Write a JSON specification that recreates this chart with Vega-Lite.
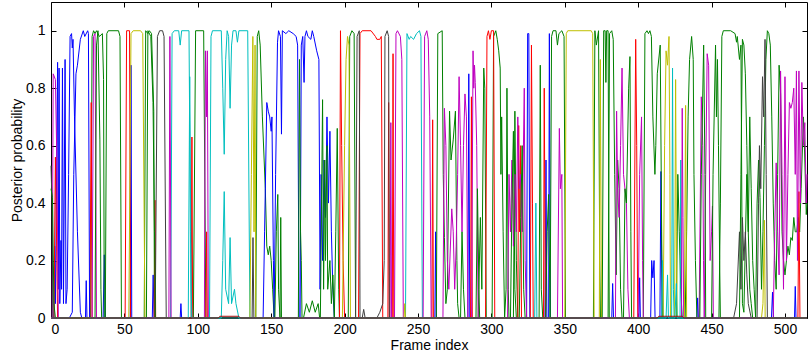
{
"$schema": "https://vega.github.io/schema/vega-lite/v6.json",
"width": 756, "height": 316,
"autosize": {"type": "none"},
"padding": {"left": 51, "top": 2, "right": 4, "bottom": 38},
"background": "white",
"config": {"view": {"stroke": "#000", "strokeWidth": 1},
 "axis": {"labelFont": "Liberation Sans", "titleFont": "Liberation Sans", "labelFontSize": 14, "titleFontSize": 14, "titleFontWeight": "normal", "labelColor": "#000", "titleColor": "#000", "tickColor": "#000", "domain": false, "grid": false}},
"data": {"values": [
{"s":"s01b","f":0,"p":0},{"s":"s01b","f":2,"p":0},{"s":"s01b","f":2.5,"p":0.25},{"s":"s01b","f":3,"p":0.05},{"s":"s01b","f":4.5,"p":0.89},{"s":"s01b","f":5,"p":0.1},{"s":"s01b","f":5.5,"p":0.87},{"s":"s01b","f":6,"p":0.05},{"s":"s01b","f":6.8,"p":0.27},{"s":"s01b","f":7.2,"p":0.1},{"s":"s01b","f":7.8,"p":0.87},{"s":"s01b","f":8.5,"p":0.05},{"s":"s01b","f":9.6,"p":0.9},{"s":"s01b","f":10.2,"p":0.05},{"s":"s01b","f":11,"p":0.1},{"s":"s01b","f":12,"p":0.5},{"s":"s01b","f":13,"p":0.98},{"s":"s01b","f":14,"p":0.99},{"s":"s01b","f":14.5,"p":0.94},{"s":"s01b","f":15,"p":0.97},{"s":"s01b","f":16,"p":0.7},{"s":"s01b","f":18,"p":0.3},{"s":"s01b","f":20,"p":0.02},{"s":"s01b","f":21,"p":0},{"s":"s01b","f":23.5,"p":0},{"s":"s01b","f":24,"p":0.13},{"s":"s01b","f":24.5,"p":0},{"s":"s01b","f":35.5,"p":0},{"s":"s01b","f":36.3,"p":0.22},{"s":"s01b","f":37,"p":0},{"s":"s01b","f":54,"p":0},{"s":"s01b","f":54.5,"p":0.88},{"s":"s01b","f":55,"p":0},{"s":"s01b","f":69,"p":0},{"s":"s01b","f":69.6,"p":0.15},{"s":"s01b","f":70.2,"p":0},{"s":"s01b","f":88,"p":0},{"s":"s01b","f":88.5,"p":0.05},{"s":"s01b","f":89,"p":0},{"s":"s01b","f":152,"p":0},{"s":"s01b","f":153,"p":0.5},{"s":"s01b","f":154.3,"p":0.96},{"s":"s01b","f":155,"p":1},{"s":"s01b","f":156.3,"p":0.98},{"s":"s01b","f":157,"p":0.64},{"s":"s01b","f":157.6,"p":1},{"s":"s01b","f":160,"p":0.99},{"s":"s01b","f":162,"p":1},{"s":"s01b","f":165,"p":0.99},{"s":"s01b","f":167,"p":0.98},{"s":"s01b","f":168,"p":0.95},{"s":"s01b","f":169,"p":0},{"s":"s01b","f":169.7,"p":0},{"s":"s01b","f":170.5,"p":0.95},{"s":"s01b","f":171.5,"p":0.98},{"s":"s01b","f":172.4,"p":0.82},{"s":"s01b","f":173,"p":0.98},{"s":"s01b","f":174,"p":1},{"s":"s01b","f":175,"p":0.98},{"s":"s01b","f":177,"p":0.97},{"s":"s01b","f":178,"p":1},{"s":"s01b","f":179,"p":0.98},{"s":"s01b","f":181,"p":0.93},{"s":"s01b","f":182.5,"p":0.9},{"s":"s01b","f":183.3,"p":0.1},{"s":"s01b","f":184,"p":0.5},{"s":"s01b","f":185,"p":0.2},{"s":"s01b","f":186,"p":0.55},{"s":"s01b","f":187,"p":0.35},{"s":"s01b","f":188,"p":0.7},{"s":"s01b","f":189,"p":0.4},{"s":"s01b","f":190,"p":0.65},{"s":"s01b","f":191,"p":0.3},{"s":"s01b","f":192,"p":0.1},{"s":"s01b","f":193,"p":0},{"s":"s01b","f":261.5,"p":0},{"s":"s01b","f":262,"p":0.3},{"s":"s01b","f":262.5,"p":0},{"s":"s01b","f":284,"p":0},{"s":"s01b","f":284.6,"p":0.85},{"s":"s01b","f":285.3,"p":0},{"s":"s01b","f":324,"p":0},{"s":"s01b","f":324.7,"p":0.99},{"s":"s01b","f":325.5,"p":0.99},{"s":"s01b","f":326.2,"p":0},{"s":"s01b","f":336.5,"p":0},{"s":"s01b","f":337.2,"p":0.55},{"s":"s01b","f":337.8,"p":0},{"s":"s01b","f":339,"p":0},{"s":"s01b","f":339.5,"p":0.99},{"s":"s01b","f":340.2,"p":0},{"s":"s01b","f":382,"p":0},{"s":"s01b","f":382.6,"p":0.12},{"s":"s01b","f":383.2,"p":0},{"s":"s01b","f":400.5,"p":0},{"s":"s01b","f":401,"p":0.14},{"s":"s01b","f":401.5,"p":0},{"s":"s01b","f":408.5,"p":0},{"s":"s01b","f":409.2,"p":0.2},{"s":"s01b","f":410,"p":0.14},{"s":"s01b","f":410.8,"p":0.2},{"s":"s01b","f":411.5,"p":0},{"s":"s01b","f":414.8,"p":0},{"s":"s01b","f":415.5,"p":0.51},{"s":"s01b","f":416.3,"p":0},{"s":"s01b","f":440,"p":0},{"s":"s01b","f":440.5,"p":0.07},{"s":"s01b","f":441,"p":0},{"s":"s01b","f":490.8,"p":0},{"s":"s01b","f":491.5,"p":0.09},{"s":"s01b","f":492.2,"p":0},{"s":"s01b","f":506.5,"p":0},{"s":"s01b","f":507,"p":0.11},{"s":"s01b","f":507.5,"p":0},{"s":"s01b","f":515,"p":0},

{"s":"s02g","f":0,"p":0},{"s":"s02g","f":27,"p":0},{"s":"s02g","f":28,"p":0.98},{"s":"s02g","f":29,"p":1},{"s":"s02g","f":30,"p":0.99},{"s":"s02g","f":31,"p":1},{"s":"s02g","f":33,"p":0.98},{"s":"s02g","f":35,"p":0.99},{"s":"s02g","f":35.8,"p":0.83},{"s":"s02g","f":36.3,"p":0},{"s":"s02g","f":37,"p":0},{"s":"s02g","f":38,"p":0.99},{"s":"s02g","f":39,"p":1},{"s":"s02g","f":46,"p":1},{"s":"s02g","f":47,"p":0.98},{"s":"s02g","f":48,"p":0},{"s":"s02g","f":63.5,"p":0},{"s":"s02g","f":64.5,"p":1},{"s":"s02g","f":66,"p":0.99},{"s":"s02g","f":67,"p":1},{"s":"s02g","f":68.5,"p":0.99},{"s":"s02g","f":70,"p":0.72},{"s":"s02g","f":70.5,"p":0},{"s":"s02g","f":97,"p":0},{"s":"s02g","f":98.5,"p":1},{"s":"s02g","f":104,"p":1},{"s":"s02g","f":105.5,"p":0},{"s":"s02g","f":139.5,"p":0},{"s":"s02g","f":140.5,"p":0.98},{"s":"s02g","f":141.5,"p":1},{"s":"s02g","f":142.5,"p":0.95},{"s":"s02g","f":144,"p":0.7},{"s":"s02g","f":146,"p":0.45},{"s":"s02g","f":147,"p":0.25},{"s":"s02g","f":148,"p":0.22},{"s":"s02g","f":149,"p":0.25},{"s":"s02g","f":150,"p":0.2},{"s":"s02g","f":151,"p":0.1},{"s":"s02g","f":152,"p":0},{"s":"s02g","f":168.5,"p":0},{"s":"s02g","f":169.3,"p":0.9},{"s":"s02g","f":170,"p":0.3},{"s":"s02g","f":170.5,"p":0.2},{"s":"s02g","f":171,"p":0},{"s":"s02g","f":183.5,"p":0},{"s":"s02g","f":184.5,"p":0.5},{"s":"s02g","f":185,"p":0.76},{"s":"s02g","f":185.7,"p":0.1},{"s":"s02g","f":186.5,"p":0.55},{"s":"s02g","f":187,"p":0.2},{"s":"s02g","f":188,"p":0.6},{"s":"s02g","f":188.5,"p":0.1},{"s":"s02g","f":190,"p":0.2},{"s":"s02g","f":191,"p":0.05},{"s":"s02g","f":192,"p":0.15},{"s":"s02g","f":193,"p":0},{"s":"s02g","f":194,"p":0.3},{"s":"s02g","f":195,"p":0.66},{"s":"s02g","f":196,"p":0.1},{"s":"s02g","f":196.5,"p":0},{"s":"s02g","f":202.5,"p":0},{"s":"s02g","f":203.5,"p":0.98},{"s":"s02g","f":205,"p":1},{"s":"s02g","f":206.5,"p":0.99},{"s":"s02g","f":207.5,"p":0},{"s":"s02g","f":262.5,"p":0},{"s":"s02g","f":263.5,"p":0.99},{"s":"s02g","f":266.5,"p":1},{"s":"s02g","f":267.2,"p":0.5},{"s":"s02g","f":268,"p":0.28},{"s":"s02g","f":269,"p":0.05},{"s":"s02g","f":270,"p":0.1},{"s":"s02g","f":271.5,"p":0.72},{"s":"s02g","f":272.5,"p":0.55},{"s":"s02g","f":274,"p":0.62},{"s":"s02g","f":275.5,"p":0.72},{"s":"s02g","f":276.5,"p":0.2},{"s":"s02g","f":277,"p":0.05},{"s":"s02g","f":278,"p":0},{"s":"s02g","f":291,"p":0},{"s":"s02g","f":292.5,"p":0.35},{"s":"s02g","f":293.5,"p":0.1},{"s":"s02g","f":294.8,"p":0.87},{"s":"s02g","f":295.5,"p":0.8},{"s":"s02g","f":296.5,"p":0},{"s":"s02g","f":300.5,"p":0},{"s":"s02g","f":301.5,"p":0.98},{"s":"s02g","f":303,"p":1},{"s":"s02g","f":304,"p":0.97},{"s":"s02g","f":305,"p":0.93},{"s":"s02g","f":306,"p":0.87},{"s":"s02g","f":306.5,"p":0.5},{"s":"s02g","f":307,"p":0.7},{"s":"s02g","f":308,"p":0.3},{"s":"s02g","f":309,"p":0},{"s":"s02g","f":310,"p":0.1},{"s":"s02g","f":310.6,"p":0.8},{"s":"s02g","f":311.5,"p":0.1},{"s":"s02g","f":312,"p":0},{"s":"s02g","f":315,"p":0},{"s":"s02g","f":316,"p":0.72},{"s":"s02g","f":317,"p":0.2},{"s":"s02g","f":318,"p":0},{"s":"s02g","f":332.5,"p":0},{"s":"s02g","f":333.3,"p":0.88},{"s":"s02g","f":334,"p":0.1},{"s":"s02g","f":335,"p":0},{"s":"s02g","f":340,"p":0},{"s":"s02g","f":341,"p":0.98},{"s":"s02g","f":342,"p":1},{"s":"s02g","f":344,"p":1},{"s":"s02g","f":345,"p":0.95},{"s":"s02g","f":346,"p":0.99},{"s":"s02g","f":348,"p":1},{"s":"s02g","f":349.5,"p":0.98},{"s":"s02g","f":350.5,"p":0},{"s":"s02g","f":369.5,"p":0},{"s":"s02g","f":370.5,"p":1},{"s":"s02g","f":371.5,"p":0.95},{"s":"s02g","f":373,"p":1},{"s":"s02g","f":373.8,"p":0.2},{"s":"s02g","f":374.3,"p":0},{"s":"s02g","f":379.5,"p":0},{"s":"s02g","f":380.5,"p":0.99},{"s":"s02g","f":382,"p":1},{"s":"s02g","f":383,"p":0.97},{"s":"s02g","f":384,"p":0.5},{"s":"s02g","f":385,"p":0.15},{"s":"s02g","f":386,"p":0.55},{"s":"s02g","f":387,"p":0.45},{"s":"s02g","f":388,"p":0.1},{"s":"s02g","f":389,"p":0},{"s":"s02g","f":403.5,"p":0},{"s":"s02g","f":404.6,"p":0.99},{"s":"s02g","f":406,"p":1},{"s":"s02g","f":407,"p":0.99},{"s":"s02g","f":408,"p":1},{"s":"s02g","f":409,"p":0.98},{"s":"s02g","f":410,"p":0.7},{"s":"s02g","f":411.4,"p":0.5},{"s":"s02g","f":412,"p":0.6},{"s":"s02g","f":413,"p":0.85},{"s":"s02g","f":415,"p":0.95},{"s":"s02g","f":416,"p":0.3},{"s":"s02g","f":416.5,"p":0},{"s":"s02g","f":426,"p":0},{"s":"s02g","f":427,"p":0.5},{"s":"s02g","f":428,"p":0.3},{"s":"s02g","f":429,"p":0.1},{"s":"s02g","f":430,"p":0},{"s":"s02g","f":432,"p":0},{"s":"s02g","f":433,"p":0.3},{"s":"s02g","f":434,"p":0.7},{"s":"s02g","f":435,"p":0.9},{"s":"s02g","f":436.4,"p":0.98},{"s":"s02g","f":437.5,"p":0.9},{"s":"s02g","f":438,"p":0.5},{"s":"s02g","f":439,"p":0.2},{"s":"s02g","f":440,"p":0},{"s":"s02g","f":455,"p":0},{"s":"s02g","f":456,"p":0.4},{"s":"s02g","f":457,"p":0.98},{"s":"s02g","f":458,"p":1},{"s":"s02g","f":463,"p":1},{"s":"s02g","f":466,"p":0.99},{"s":"s02g","f":467,"p":0.96},{"s":"s02g","f":467.5,"p":0.98},{"s":"s02g","f":469,"p":0.9},{"s":"s02g","f":470,"p":0.95},{"s":"s02g","f":471,"p":0.05},{"s":"s02g","f":472,"p":0.02},{"s":"s02g","f":474,"p":0.5},{"s":"s02g","f":475,"p":0.3},{"s":"s02g","f":476,"p":0.7},{"s":"s02g","f":477,"p":0.45},{"s":"s02g","f":478,"p":0.2},{"s":"s02g","f":479,"p":0.1},{"s":"s02g","f":480,"p":0},{"s":"s02g","f":481,"p":0.4},{"s":"s02g","f":482,"p":0.55},{"s":"s02g","f":483,"p":0.42},{"s":"s02g","f":484,"p":0.1},{"s":"s02g","f":485,"p":0.3},{"s":"s02g","f":486,"p":0.6},{"s":"s02g","f":487,"p":0.9},{"s":"s02g","f":488,"p":1},{"s":"s02g","f":489,"p":0.99},{"s":"s02g","f":490,"p":0.95},{"s":"s02g","f":491,"p":0.7},{"s":"s02g","f":492,"p":0.4},{"s":"s02g","f":493,"p":0.2},{"s":"s02g","f":494,"p":0.1},{"s":"s02g","f":495,"p":0.5},{"s":"s02g","f":496,"p":0.88},{"s":"s02g","f":497,"p":0.78},{"s":"s02g","f":498,"p":0.3},{"s":"s02g","f":499,"p":0.2},{"s":"s02g","f":500,"p":0.15},{"s":"s02g","f":501,"p":0.2},{"s":"s02g","f":502,"p":0.25},{"s":"s02g","f":503,"p":0.22},{"s":"s02g","f":504,"p":0.28},{"s":"s02g","f":505,"p":0.27},{"s":"s02g","f":506,"p":0.35},{"s":"s02g","f":507,"p":0.3},{"s":"s02g","f":508,"p":0.3},{"s":"s02g","f":509,"p":0.35},{"s":"s02g","f":510,"p":0.3},{"s":"s02g","f":511,"p":0.45},{"s":"s02g","f":512.6,"p":0.7},{"s":"s02g","f":513.5,"p":0.55},{"s":"s02g","f":514.5,"p":0.36},{"s":"s02g","f":515,"p":0.4},

{"s":"s03r","f":0,"p":0},{"s":"s03r","f":2,"p":0},{"s":"s03r","f":3,"p":0.56},{"s":"s03r","f":4,"p":0.2},{"s":"s03r","f":4.5,"p":0},{"s":"s03r","f":26.5,"p":0},{"s":"s03r","f":27.4,"p":0.75},{"s":"s03r","f":28,"p":0},{"s":"s03r","f":50.5,"p":0},{"s":"s03r","f":51.5,"p":1},{"s":"s03r","f":53.5,"p":1},{"s":"s03r","f":54.2,"p":0},{"s":"s03r","f":70.3,"p":0},{"s":"s03r","f":70.8,"p":0.41},{"s":"s03r","f":71.3,"p":0},{"s":"s03r","f":95.5,"p":0},{"s":"s03r","f":96,"p":0.63},{"s":"s03r","f":96.5,"p":0},{"s":"s03r","f":105.5,"p":0},{"s":"s03r","f":106,"p":0.3},{"s":"s03r","f":106.5,"p":0},{"s":"s03r","f":196.5,"p":0},{"s":"s03r","f":197.2,"p":1},{"s":"s03r","f":198,"p":0.6},{"s":"s03r","f":199,"p":0.2},{"s":"s03r","f":200,"p":0},{"s":"s03r","f":209.5,"p":0},{"s":"s03r","f":210.5,"p":0.99},{"s":"s03r","f":212,"p":1},{"s":"s03r","f":218,"p":1},{"s":"s03r","f":221,"p":0.98},{"s":"s03r","f":222,"p":0.97},{"s":"s03r","f":224,"p":0.97},{"s":"s03r","f":225,"p":0.98},{"s":"s03r","f":226,"p":0},{"s":"s03r","f":229.5,"p":0},{"s":"s03r","f":230,"p":0.75},{"s":"s03r","f":230.5,"p":0},{"s":"s03r","f":232.5,"p":0},{"s":"s03r","f":233,"p":0.92},{"s":"s03r","f":233.5,"p":0},{"s":"s03r","f":259.5,"p":0},{"s":"s03r","f":260,"p":0.69},{"s":"s03r","f":260.5,"p":0},{"s":"s03r","f":285.8,"p":0},{"s":"s03r","f":286.4,"p":0.77},{"s":"s03r","f":287,"p":0},{"s":"s03r","f":296,"p":0},{"s":"s03r","f":297,"p":0.98},{"s":"s03r","f":298,"p":1},{"s":"s03r","f":299,"p":0.97},{"s":"s03r","f":300,"p":1},{"s":"s03r","f":301.5,"p":1},{"s":"s03r","f":302.3,"p":0},{"s":"s03r","f":318,"p":0},{"s":"s03r","f":318.6,"p":0.67},{"s":"s03r","f":319.2,"p":0.3},{"s":"s03r","f":320,"p":0.6},{"s":"s03r","f":320.5,"p":0},{"s":"s03r","f":326.5,"p":0},{"s":"s03r","f":327.3,"p":0.95},{"s":"s03r","f":328,"p":0.4},{"s":"s03r","f":328.5,"p":0},{"s":"s03r","f":335.5,"p":0},{"s":"s03r","f":336,"p":0.8},{"s":"s03r","f":336.8,"p":0},{"s":"s03r","f":397,"p":0},{"s":"s03r","f":398.3,"p":0.97},{"s":"s03r","f":399,"p":0.6},{"s":"s03r","f":399.7,"p":0},{"s":"s03r","f":508.8,"p":0},{"s":"s03r","f":509.5,"p":0.44},{"s":"s03r","f":510.2,"p":0},{"s":"s03r","f":515,"p":0},

{"s":"s04c","f":0,"p":0},{"s":"s04c","f":81.5,"p":0},{"s":"s04c","f":82.5,"p":0.99},{"s":"s04c","f":84,"p":1},{"s":"s04c","f":87,"p":1},{"s":"s04c","f":88,"p":0.95},{"s":"s04c","f":89,"p":1},{"s":"s04c","f":94,"p":1},{"s":"s04c","f":95,"p":0.3},{"s":"s04c","f":95.5,"p":0},{"s":"s04c","f":108,"p":0},{"s":"s04c","f":109,"p":0.98},{"s":"s04c","f":110,"p":1},{"s":"s04c","f":116,"p":1},{"s":"s04c","f":117,"p":0.8},{"s":"s04c","f":118,"p":0.57},{"s":"s04c","f":119,"p":0.9},{"s":"s04c","f":120,"p":1},{"s":"s04c","f":121,"p":0.98},{"s":"s04c","f":122,"p":0.73},{"s":"s04c","f":123,"p":0.95},{"s":"s04c","f":124,"p":1},{"s":"s04c","f":126,"p":1},{"s":"s04c","f":127,"p":0.96},{"s":"s04c","f":128,"p":1},{"s":"s04c","f":134,"p":1},{"s":"s04c","f":135.5,"p":0},{"s":"s04c","f":241.5,"p":0},{"s":"s04c","f":242.5,"p":0.99},{"s":"s04c","f":244,"p":0.97},{"s":"s04c","f":245,"p":0.98},{"s":"s04c","f":247,"p":0.97},{"s":"s04c","f":249,"p":0.99},{"s":"s04c","f":251,"p":1},{"s":"s04c","f":252,"p":0.98},{"s":"s04c","f":253,"p":0},{"s":"s04c","f":329.5,"p":0},{"s":"s04c","f":330.3,"p":0.4},{"s":"s04c","f":331,"p":0},{"s":"s04c","f":416,"p":0},{"s":"s04c","f":416.6,"p":0.2},{"s":"s04c","f":417.2,"p":0},{"s":"s04c","f":422.8,"p":0},{"s":"s04c","f":423.4,"p":0.87},{"s":"s04c","f":424,"p":0.1},{"s":"s04c","f":424.5,"p":0},{"s":"s04c","f":428.5,"p":0},{"s":"s04c","f":429,"p":0.55},{"s":"s04c","f":429.6,"p":0},{"s":"s04c","f":515,"p":0},

{"s":"s05m","f":0,"p":0},{"s":"s05m","f":0.8,"p":0},{"s":"s05m","f":1.5,"p":0.85},{"s":"s05m","f":3,"p":0.83},{"s":"s05m","f":4,"p":0.55},{"s":"s05m","f":5,"p":0},{"s":"s05m","f":28,"p":0},{"s":"s05m","f":29,"p":0.98},{"s":"s05m","f":30,"p":0.99},{"s":"s05m","f":31,"p":0},{"s":"s05m","f":80.3,"p":0},{"s":"s05m","f":81,"p":0.98},{"s":"s05m","f":81.8,"p":0},{"s":"s05m","f":104.5,"p":0},{"s":"s05m","f":105.2,"p":0.93},{"s":"s05m","f":106,"p":0.7},{"s":"s05m","f":106.5,"p":0.93},{"s":"s05m","f":107.2,"p":0},{"s":"s05m","f":231,"p":0},{"s":"s05m","f":231.5,"p":0.68},{"s":"s05m","f":232,"p":0},{"s":"s05m","f":234,"p":0},{"s":"s05m","f":235,"p":0.99},{"s":"s05m","f":236,"p":1},{"s":"s05m","f":238,"p":0.98},{"s":"s05m","f":239,"p":0.9},{"s":"s05m","f":240,"p":0},{"s":"s05m","f":253.5,"p":0},{"s":"s05m","f":254.5,"p":0.98},{"s":"s05m","f":256,"p":1},{"s":"s05m","f":257,"p":0.97},{"s":"s05m","f":258,"p":0.7},{"s":"s05m","f":259,"p":0},{"s":"s05m","f":267,"p":0},{"s":"s05m","f":268,"p":0.73},{"s":"s05m","f":269,"p":0.6},{"s":"s05m","f":270,"p":0.2},{"s":"s05m","f":271,"p":0.1},{"s":"s05m","f":273,"p":0.38},{"s":"s05m","f":274,"p":0.3},{"s":"s05m","f":275,"p":0.1},{"s":"s05m","f":276,"p":0.25},{"s":"s05m","f":277,"p":0.5},{"s":"s05m","f":278,"p":0.84},{"s":"s05m","f":279,"p":0.6},{"s":"s05m","f":280,"p":0.3},{"s":"s05m","f":281,"p":0.6},{"s":"s05m","f":282,"p":0.78},{"s":"s05m","f":283,"p":0.7},{"s":"s05m","f":284,"p":0},{"s":"s05m","f":286.5,"p":0},{"s":"s05m","f":287.5,"p":0.93},{"s":"s05m","f":288,"p":0.8},{"s":"s05m","f":288.5,"p":0.88},{"s":"s05m","f":289,"p":0.82},{"s":"s05m","f":290,"p":0.6},{"s":"s05m","f":291,"p":0},{"s":"s05m","f":311,"p":0},{"s":"s05m","f":312,"p":0.5},{"s":"s05m","f":313,"p":0.3},{"s":"s05m","f":314,"p":0.55},{"s":"s05m","f":315,"p":0.25},{"s":"s05m","f":316,"p":0.5},{"s":"s05m","f":317,"p":0.3},{"s":"s05m","f":318,"p":0.7},{"s":"s05m","f":319,"p":0.45},{"s":"s05m","f":320,"p":0.5},{"s":"s05m","f":321,"p":0.3},{"s":"s05m","f":322.4,"p":0.8},{"s":"s05m","f":323,"p":0.2},{"s":"s05m","f":324,"p":0},{"s":"s05m","f":345,"p":0},{"s":"s05m","f":346.3,"p":0.66},{"s":"s05m","f":347,"p":0.45},{"s":"s05m","f":348,"p":0.5},{"s":"s05m","f":348.5,"p":0},{"s":"s05m","f":384.5,"p":0},{"s":"s05m","f":385.3,"p":0.72},{"s":"s05m","f":386,"p":0.45},{"s":"s05m","f":387,"p":0.35},{"s":"s05m","f":388,"p":0.6},{"s":"s05m","f":389,"p":0.87},{"s":"s05m","f":390,"p":0.5},{"s":"s05m","f":391,"p":0.45},{"s":"s05m","f":392,"p":0.4},{"s":"s05m","f":393,"p":0.1},{"s":"s05m","f":394,"p":0},{"s":"s05m","f":400,"p":0},{"s":"s05m","f":401,"p":0.5},{"s":"s05m","f":402.3,"p":0.7},{"s":"s05m","f":403,"p":0.2},{"s":"s05m","f":403.5,"p":0},{"s":"s05m","f":429.5,"p":0},{"s":"s05m","f":430,"p":0.73},{"s":"s05m","f":430.5,"p":0.35},{"s":"s05m","f":431,"p":0},{"s":"s05m","f":441.5,"p":0},{"s":"s05m","f":443,"p":0.77},{"s":"s05m","f":444,"p":0.6},{"s":"s05m","f":444.5,"p":0.2},{"s":"s05m","f":445,"p":0},{"s":"s05m","f":446,"p":0.5},{"s":"s05m","f":447,"p":0.92},{"s":"s05m","f":448,"p":0.88},{"s":"s05m","f":449,"p":0.2},{"s":"s05m","f":450,"p":0.3},{"s":"s05m","f":450.6,"p":0.39},{"s":"s05m","f":451.2,"p":0},{"s":"s05m","f":492,"p":0},{"s":"s05m","f":493,"p":0.3},{"s":"s05m","f":494,"p":0.54},{"s":"s05m","f":495,"p":0.3},{"s":"s05m","f":496,"p":0.15},{"s":"s05m","f":497,"p":0.86},{"s":"s05m","f":498,"p":0.5},{"s":"s05m","f":499,"p":0.1},{"s":"s05m","f":500,"p":0.84},{"s":"s05m","f":501,"p":0.2},{"s":"s05m","f":502,"p":0.5},{"s":"s05m","f":503,"p":0.75},{"s":"s05m","f":504,"p":0.73},{"s":"s05m","f":505,"p":0.75},{"s":"s05m","f":506,"p":0.8},{"s":"s05m","f":507,"p":0.5},{"s":"s05m","f":507.8,"p":0.86},{"s":"s05m","f":508.5,"p":0.2},{"s":"s05m","f":509.5,"p":0.86},{"s":"s05m","f":510.5,"p":0.4},{"s":"s05m","f":511.5,"p":0.82},{"s":"s05m","f":512.5,"p":0.6},{"s":"s05m","f":513.5,"p":0.68},{"s":"s05m","f":514.5,"p":0.4},{"s":"s05m","f":515,"p":0.5},

{"s":"s06y","f":0,"p":0},{"s":"s06y","f":53,"p":0},{"s":"s06y","f":54.5,"p":0.99},{"s":"s06y","f":56,"p":1},{"s":"s06y","f":61,"p":1},{"s":"s06y","f":62.5,"p":0.99},{"s":"s06y","f":64,"p":0},{"s":"s06y","f":135.5,"p":0},{"s":"s06y","f":136.5,"p":0.5},{"s":"s06y","f":137.5,"p":0.98},{"s":"s06y","f":138.3,"p":0.3},{"s":"s06y","f":139,"p":0.95},{"s":"s06y","f":139.5,"p":0},{"s":"s06y","f":198.5,"p":0},{"s":"s06y","f":200,"p":0.6},{"s":"s06y","f":201,"p":0.9},{"s":"s06y","f":202,"p":0.98},{"s":"s06y","f":203,"p":0.95},{"s":"s06y","f":204,"p":0},{"s":"s06y","f":240.5,"p":0},{"s":"s06y","f":241,"p":0.05},{"s":"s06y","f":241.5,"p":0},{"s":"s06y","f":350,"p":0},{"s":"s06y","f":351,"p":0.99},{"s":"s06y","f":352,"p":1},{"s":"s06y","f":368,"p":1},{"s":"s06y","f":369,"p":0.99},{"s":"s06y","f":370,"p":0},{"s":"s06y","f":373.5,"p":0},{"s":"s06y","f":374.2,"p":0.9},{"s":"s06y","f":375,"p":0},{"s":"s06y","f":417,"p":0},{"s":"s06y","f":418,"p":0.6},{"s":"s06y","f":419,"p":0.93},{"s":"s06y","f":420,"p":0.88},{"s":"s06y","f":421,"p":0.98},{"s":"s06y","f":421.6,"p":0.5},{"s":"s06y","f":422,"p":0},{"s":"s06y","f":424.8,"p":0},{"s":"s06y","f":425.5,"p":0.83},{"s":"s06y","f":426,"p":0.3},{"s":"s06y","f":426.5,"p":0},{"s":"s06y","f":431.5,"p":0},{"s":"s06y","f":432.3,"p":0.74},{"s":"s06y","f":433,"p":0},{"s":"s06y","f":484,"p":0},{"s":"s06y","f":485,"p":0.05},{"s":"s06y","f":486,"p":0.34},{"s":"s06y","f":486.5,"p":0},{"s":"s06y","f":515,"p":0},

{"s":"s07k","f":0,"p":0.53},{"s":"s07k","f":0.7,"p":0.4},{"s":"s07k","f":1.3,"p":0},{"s":"s07k","f":71,"p":0},{"s":"s07k","f":72.5,"p":0.98},{"s":"s07k","f":74,"p":1},{"s":"s07k","f":76,"p":1},{"s":"s07k","f":77,"p":0.98},{"s":"s07k","f":78.5,"p":0},{"s":"s07k","f":137,"p":0},{"s":"s07k","f":137.6,"p":0.28},{"s":"s07k","f":138.2,"p":0},{"s":"s07k","f":207.5,"p":0},{"s":"s07k","f":208.5,"p":0.98},{"s":"s07k","f":210,"p":1},{"s":"s07k","f":210.5,"p":0},{"s":"s07k","f":212,"p":0},{"s":"s07k","f":213,"p":0.03},{"s":"s07k","f":214,"p":0},{"s":"s07k","f":222,"p":0},{"s":"s07k","f":224,"p":0.02},{"s":"s07k","f":226,"p":0.05},{"s":"s07k","f":227,"p":0.2},{"s":"s07k","f":227.5,"p":0.98},{"s":"s07k","f":229,"p":1},{"s":"s07k","f":230,"p":0.98},{"s":"s07k","f":230.5,"p":0},{"s":"s07k","f":465,"p":0},{"s":"s07k","f":467,"p":0.05},{"s":"s07k","f":469,"p":0.3},{"s":"s07k","f":470,"p":0.1},{"s":"s07k","f":471,"p":0.35},{"s":"s07k","f":472,"p":0.2},{"s":"s07k","f":473,"p":0.3},{"s":"s07k","f":474,"p":0.15},{"s":"s07k","f":475,"p":0.05},{"s":"s07k","f":477,"p":0},{"s":"s07k","f":481,"p":0},{"s":"s07k","f":482,"p":0.4},{"s":"s07k","f":482.6,"p":0.6},{"s":"s07k","f":483.5,"p":0.45},{"s":"s07k","f":484.7,"p":0.84},{"s":"s07k","f":485.5,"p":0.7},{"s":"s07k","f":486.4,"p":0.97},{"s":"s07k","f":487.2,"p":0.5},{"s":"s07k","f":488,"p":0},{"s":"s07k","f":515,"p":0},

{"s":"s08b","f":0,"p":0},{"s":"s08b","f":12.5,"p":0},{"s":"s08b","f":14.5,"p":0.02},{"s":"s08b","f":15.5,"p":0.5},{"s":"s08b","f":17,"p":0.85},{"s":"s08b","f":18,"p":0.88},{"s":"s08b","f":20,"p":0.97},{"s":"s08b","f":22,"p":1},{"s":"s08b","f":23,"p":0.98},{"s":"s08b","f":25,"p":1},{"s":"s08b","f":25.5,"p":0.99},{"s":"s08b","f":26.3,"p":0},{"s":"s08b","f":144.5,"p":0},{"s":"s08b","f":145.5,"p":0.3},{"s":"s08b","f":147,"p":0.75},{"s":"s08b","f":148,"p":0.72},{"s":"s08b","f":149,"p":0.7},{"s":"s08b","f":150,"p":0.65},{"s":"s08b","f":150.5,"p":0.7},{"s":"s08b","f":151.5,"p":0.2},{"s":"s08b","f":152,"p":0},{"s":"s08b","f":515,"p":0},

{"s":"s09g","f":0,"p":0.45},{"s":"s09g","f":1,"p":0.42},{"s":"s09g","f":2,"p":0.05},{"s":"s09g","f":3,"p":0},{"s":"s09g","f":30,"p":0},{"s":"s09g","f":31,"p":0.95},{"s":"s09g","f":32,"p":1},{"s":"s09g","f":33.3,"p":0.62},{"s":"s09g","f":34,"p":0.1},{"s":"s09g","f":34.5,"p":0},{"s":"s09g","f":65,"p":0},{"s":"s09g","f":66,"p":1},{"s":"s09g","f":68,"p":0.98},{"s":"s09g","f":69.5,"p":0.75},{"s":"s09g","f":70.5,"p":0.3},{"s":"s09g","f":71,"p":0},{"s":"s09g","f":152.5,"p":0},{"s":"s09g","f":153.5,"p":0.3},{"s":"s09g","f":154.5,"p":0.43},{"s":"s09g","f":155,"p":0.1},{"s":"s09g","f":156,"p":0},{"s":"s09g","f":156.5,"p":0.35},{"s":"s09g","f":157,"p":0},{"s":"s09g","f":172,"p":0},{"s":"s09g","f":174,"p":0.05},{"s":"s09g","f":176,"p":0.02},{"s":"s09g","f":178,"p":0.06},{"s":"s09g","f":180,"p":0.02},{"s":"s09g","f":182,"p":0.05},{"s":"s09g","f":183,"p":0},{"s":"s09g","f":279,"p":0},{"s":"s09g","f":280,"p":0.3},{"s":"s09g","f":281,"p":0.1},{"s":"s09g","f":282,"p":0},{"s":"s09g","f":289.5,"p":0},{"s":"s09g","f":290.5,"p":0.45},{"s":"s09g","f":291.5,"p":0.1},{"s":"s09g","f":292,"p":0},{"s":"s09g","f":313,"p":0},{"s":"s09g","f":314,"p":0.4},{"s":"s09g","f":315,"p":0.65},{"s":"s09g","f":316,"p":0.1},{"s":"s09g","f":317,"p":0},{"s":"s09g","f":319,"p":0},{"s":"s09g","f":320,"p":0.35},{"s":"s09g","f":321,"p":0.6},{"s":"s09g","f":322,"p":0.1},{"s":"s09g","f":323,"p":0},{"s":"s09g","f":337,"p":0},{"s":"s09g","f":338,"p":0.3},{"s":"s09g","f":339,"p":0.43},{"s":"s09g","f":340,"p":0},{"s":"s09g","f":375.5,"p":0},{"s":"s09g","f":376.5,"p":1},{"s":"s09g","f":377.5,"p":1},{"s":"s09g","f":378,"p":0.82},{"s":"s09g","f":378.5,"p":1},{"s":"s09g","f":379.5,"p":1},{"s":"s09g","f":380.3,"p":0},{"s":"s09g","f":390,"p":0},{"s":"s09g","f":391,"p":0.45},{"s":"s09g","f":392,"p":0.4},{"s":"s09g","f":393.5,"p":0.8},{"s":"s09g","f":394.4,"p":0.91},{"s":"s09g","f":395,"p":0.3},{"s":"s09g","f":395.5,"p":0},{"s":"s09g","f":442,"p":0},{"s":"s09g","f":443,"p":0.5},{"s":"s09g","f":444.6,"p":0.95},{"s":"s09g","f":445.5,"p":0.5},{"s":"s09g","f":446,"p":0},{"s":"s09g","f":450,"p":0},{"s":"s09g","f":451,"p":0.5},{"s":"s09g","f":452.7,"p":0.95},{"s":"s09g","f":453.3,"p":0.7},{"s":"s09g","f":454,"p":0.9},{"s":"s09g","f":454.7,"p":0.6},{"s":"s09g","f":455.5,"p":0.2},{"s":"s09g","f":456,"p":0},{"s":"s09g","f":469,"p":0},{"s":"s09g","f":470,"p":0.5},{"s":"s09g","f":471,"p":0.97},{"s":"s09g","f":472,"p":0.95},{"s":"s09g","f":473,"p":0.85},{"s":"s09g","f":474,"p":0.6},{"s":"s09g","f":475,"p":0.3},{"s":"s09g","f":476,"p":0.1},{"s":"s09g","f":477,"p":0.05},{"s":"s09g","f":478,"p":0},{"s":"s09g","f":515,"p":0},

{"s":"s10c","f":0,"p":0},{"s":"s10c","f":93.5,"p":0},{"s":"s10c","f":94.5,"p":0.84},{"s":"s10c","f":95.5,"p":0.1},{"s":"s10c","f":96,"p":0},{"s":"s10c","f":116,"p":0},{"s":"s10c","f":117,"p":0.2},{"s":"s10c","f":118,"p":0.44},{"s":"s10c","f":119,"p":0.1},{"s":"s10c","f":121,"p":0.05},{"s":"s10c","f":122,"p":0.28},{"s":"s10c","f":123,"p":0.05},{"s":"s10c","f":125,"p":0.1},{"s":"s10c","f":126,"p":0.05},{"s":"s10c","f":128,"p":0},{"s":"s10c","f":419,"p":0},{"s":"s10c","f":420,"p":0.15},{"s":"s10c","f":420.6,"p":0},{"s":"s10c","f":425,"p":0},{"s":"s10c","f":426,"p":0.12},{"s":"s10c","f":426.6,"p":0},{"s":"s10c","f":515,"p":0},

{"s":"s11d","f":0,"p":0},{"s":"s11d","f":114,"p":0},{"s":"s11d","f":115,"p":0.006},{"s":"s11d","f":128,"p":0.006},{"s":"s11d","f":129,"p":0},{"s":"s11d","f":413,"p":0},{"s":"s11d","f":414,"p":0.006},{"s":"s11d","f":430,"p":0.006},{"s":"s11d","f":431,"p":0},{"s":"s11d","f":515,"p":0}
]},
"layer": [
 {"mark": {"type": "line", "strokeWidth": 1, "interpolate": "linear"},
  "encoding": {
   "x": {"field": "f", "type": "quantitative", "scale": {"domain": [0, 515], "nice": false, "zero": false},
         "axis": {"values": [0,50,100,150,200,250,300,350,400,450,500], "tickSize": -5, "labelPadding": 9, "title": "Frame index", "titlePadding": 2}},
   "y": {"field": "p", "type": "quantitative", "scale": {"domain": [0, 1.1], "nice": false},
         "axis": {"values": [0,0.2,0.4,0.6,0.8,1], "format": "~g", "tickSize": -5, "labelPadding": 11, "title": "Posterior probability", "titlePadding": 1}},
   "color": {"field": "s", "type": "nominal", "legend": null,
     "scale": {"domain": ["s01b","s02g","s03r","s04c","s05m","s06y","s07k","s08b","s09g","s10c","s11d"],
               "range": ["#0000ff","#008000","#ff0000","#00bfbf","#bf00bf","#bfbf00","#404040","#0000ff","#008000","#00bfbf","#a01010"]}}
  }},
 {"mark": {"type": "point", "opacity": 0},
  "encoding": {
   "x": {"field": "f", "type": "quantitative", "scale": {"domain": [0, 515], "nice": false, "zero": false},
         "axis": {"orient": "top", "values": [0,50,100,150,200,250,300,350,400,450,500], "labels": false, "tickSize": -5, "title": null}},
   "y": {"field": "p", "type": "quantitative", "scale": {"domain": [0, 1.1], "nice": false},
         "axis": {"orient": "right", "values": [0,0.2,0.4,0.6,0.8,1], "labels": false, "tickSize": -5, "title": null}}
  }}
],
"resolve": {"scale": {"x": "independent", "y": "independent"}, "axis": {"x": "independent", "y": "independent"}}
}
